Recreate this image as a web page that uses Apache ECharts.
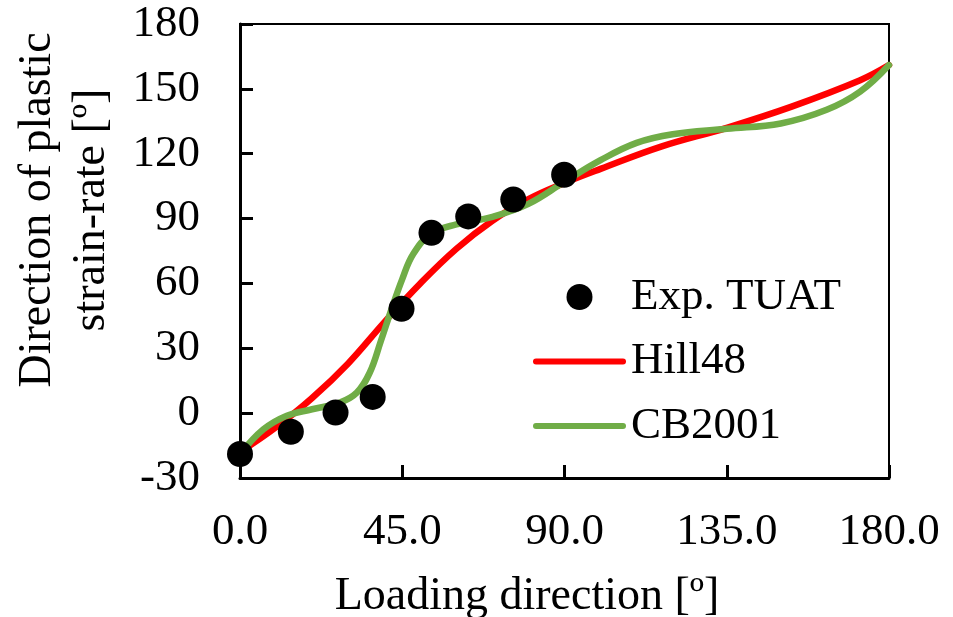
<!DOCTYPE html>
<html>
<head>
<meta charset="utf-8">
<script src="https://cdn.jsdelivr.net/npm/echarts@6/dist/echarts.min.js"></script>
<style>html,body{margin:0;padding:0;background:#fff}#c{width:953px;height:617px}</style>
</head>
<body>
<div id="c"></div>
<script>
const xTicks = [0, 45, 90, 135, 180];
const yTicks = [-30, 0, 30, 60, 90, 120, 150, 180];
const seriesNames = ['Exp. TUAT', 'Hill48', 'CB2001'];
const expX = [0, 14.1, 26.5, 36.8, 44.8, 53.1, 63.3, 75.8, 89.9];
const expY = [-18.9, -8.6, 0.3, 7.5, 48.3, 83.4, 91, 98.8, 110.3];
const hillX = [0, 10, 20, 30, 40, 50, 60, 70, 80, 90, 100, 117, 135, 153, 172, 180];
const hillY = [-18, -6.5, 7, 23, 42, 60, 76, 89, 99, 106.5, 113, 123.4, 132, 141.8, 154, 161];
const cbX = [0, 6.5, 13, 20, 27.7, 32.4, 36, 39, 42, 45, 48, 53, 60, 70, 80, 90, 100, 110, 120, 135, 150, 162.7, 172, 180];
const cbY = [-19, -7.5, -1.2, 1.8, 4.9, 9.5, 18.8, 33, 48, 62, 73.5, 83, 87.3, 90.8, 96.8, 107, 117, 125, 129, 131.5, 134, 140.3, 148.7, 161];

const zip = (a, b) => a.map((v, i) => [v, b[i]]);
const FONT = 'Liberation Serif';
const lineIcon = 'path://M3,0 L90,0 A3,3 0 0 1 90,6 L3,6 A3,3 0 0 1 3,0 Z';

const chart = echarts.init(document.getElementById('c'));
chart.setOption({
  animation: false,
  backgroundColor: '#fff',
  textStyle: { fontFamily: FONT, color: '#000' },
  grid: { left: 240, top: 24, right: 64, bottom: 139, show: true, borderColor: '#000', borderWidth: 2, backgroundColor: 'transparent' },
  xAxis: {
    type: 'value', min: xTicks[0], max: xTicks[xTicks.length - 1], interval: 45,
    axisLine: { show: true, onZero: false, lineStyle: { color: '#000', width: 3 } },
    axisTick: { show: true, inside: true, length: 13, lineStyle: { color: '#000', width: 3 } },
    axisLabel: { margin: 32, fontSize: 45, fontFamily: FONT, color: '#000', formatter: v => v.toFixed(1) },
    splitLine: { show: false }
  },
  yAxis: {
    type: 'value', min: yTicks[0], max: yTicks[yTicks.length - 1], interval: 30,
    axisLine: { show: true, onZero: false, lineStyle: { color: '#000', width: 3 } },
    axisTick: { show: true, inside: true, length: 13, lineStyle: { color: '#000', width: 3 } },
    axisLabel: { margin: 40, fontSize: 45, fontFamily: FONT, color: '#000' },
    splitLine: { show: false }
  },
  legend: {
    data: [
      { name: seriesNames[0], icon: 'circle', itemStyle: { color: '#000', opacity: 1 } },
      { name: seriesNames[1], icon: lineIcon, itemStyle: { color: '#FF0000' } },
      { name: seriesNames[2], icon: lineIcon, itemStyle: { color: '#70AD47' } }
    ],
    orient: 'vertical', left: 533, top: 274.5, padding: 0,
    itemWidth: 93, itemHeight: 26, itemGap: 19.5,
    textStyle: { fontSize: 45, fontFamily: FONT, color: '#000', lineHeight: 45 }
  },
  graphic: [
    { type: 'text', x: 64.5, y: 210, rotation: Math.PI / 2,
      style: { text: 'Direction of plastic\nstrain-rate [º]', font: '46px "Liberation Serif"', fill: '#000', align: 'center', verticalAlign: 'middle', lineHeight: 54 } },
    { type: 'text', x: 527, y: 597,
      style: { text: 'Loading direction [º]', font: '46px "Liberation Serif"', fill: '#000', align: 'center', verticalAlign: 'middle' } }
  ],
  series: [
    { name: seriesNames[1], type: 'line', data: zip(hillX, hillY), symbol: 'none', showSymbol: false, smooth: 0.4, clip: false, z: 2,
      lineStyle: { color: '#FF0000', width: 6.5, cap: 'round', join: 'round' }, itemStyle: { color: '#FF0000' } },
    { name: seriesNames[2], type: 'line', data: zip(cbX, cbY), symbol: 'none', showSymbol: false, smooth: 0.4, clip: false, z: 3,
      lineStyle: { color: '#70AD47', width: 6.5, cap: 'round', join: 'round' }, itemStyle: { color: '#70AD47' } },
    { name: seriesNames[0], type: 'scatter', data: zip(expX, expY), symbol: 'circle', symbolSize: 26, clip: false, z: 4,
      itemStyle: { color: '#000', opacity: 1 } }
  ]
});
</script>
</body>
</html>
